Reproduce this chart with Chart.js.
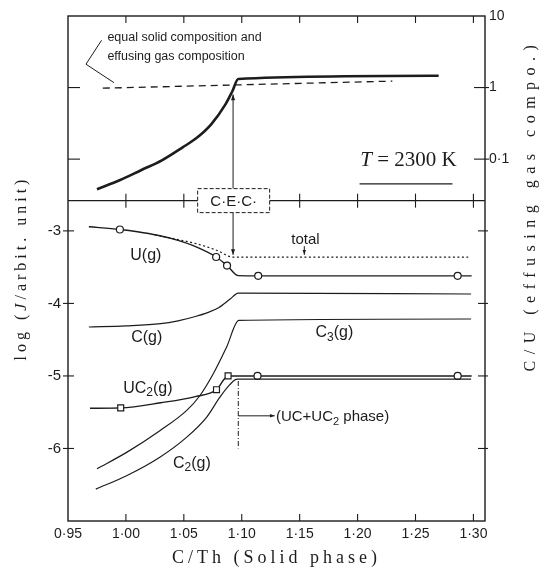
<!DOCTYPE html>
<html>
<head>
<meta charset="utf-8">
<script src="https://cdn.jsdelivr.net/npm/chart.js@4.4.0/dist/chart.umd.min.js"></script>
<style>
  html, body { margin: 0; padding: 0; background: #fff; }
  #wrap { width: 550px; height: 575px; position: relative; }
</style>
</head>
<body>
<div id="wrap"><canvas id="chart"></canvas></div>
<script>
// x axis: C/Th of the solid phase (shared by both panels)
const xTicks = [0.95, 1.00, 1.05, 1.10, 1.15, 1.20, 1.25, 1.30];
const xTickLabels = ['0·95', '1·00', '1·05', '1·10', '1·15', '1·20', '1·25', '1·30'];

// top panel: C/U of the effusing gas (log scale)
const cuTicks = [10, 1, 0.1];
const cuTickLabels = ['10', '1', '0·1'];
const gasX = [0.975, 0.995, 1.013, 1.031, 1.049, 1.0615, 1.0736, 1.0858, 1.0918, 1.097, 1.27];
const gasCU = [0.038, 0.051, 0.070, 0.096, 0.146, 0.20, 0.306, 0.577, 0.881, 1.32, 1.46];
// equal solid and gas composition
const equalX = [0.98, 1.23];
const equalCU = [0.98, 1.23];

// bottom panel: log(J / arbit. unit)
const logJTicks = [-3, -4, -5, -6];
const logJTickLabels = ['-3', '-4', '-5', '-6'];

const totalX = [1.025, 1.045, 1.0606, 1.0788, 1.0924, 1.2955];
const totalJ = [-3.055, -3.12, -3.176, -3.27, -3.362, -3.362];

const uX = [0.968, 0.9948, 1.01, 1.0273, 1.045, 1.0576, 1.0779, 1.0873, 1.097, 1.1142, 1.2864, 1.2985];
const uJ = [-2.944, -2.981, -3.012, -3.06, -3.13, -3.2, -3.36, -3.478, -3.617, -3.62, -3.62, -3.62];
const uMarks = [1, 6, 7, 9, 10];

const cX = [0.968, 1.0, 1.03, 1.045, 1.06, 1.07, 1.08, 1.09, 1.097, 1.298];
const cJ = [-4.325, -4.31, -4.28, -4.24, -4.18, -4.13, -4.06, -3.94, -3.858, -3.87];

const c3X = [0.975, 1.0006, 1.0293, 1.0523, 1.0638, 1.0753, 1.0868, 1.0975, 1.298];
const c3J = [-6.28, -6.054, -5.755, -5.479, -5.273, -4.974, -4.607, -4.235, -4.215];

const c2X = [0.974, 1.0006, 1.0293, 1.0523, 1.0696, 1.081, 1.0897, 1.096, 1.298];
const c2J = [-6.56, -6.375, -6.12, -5.847, -5.57, -5.296, -5.12, -5.045, -5.045];

const uc2X = [0.969, 0.9955, 1.03, 1.06, 1.0782, 1.0882, 1.1136, 1.2864, 1.2985];
const uc2J = [-5.445, -5.44, -5.37, -5.285, -5.19, -5.0, -5.0, -5.0, -5.0];
const uc2Squares = [1, 4, 5];
const uc2Circles = [6, 7];

const ink = '#1c1c1c';
const sans = '"Liberation Sans", Arial, sans-serif';
const serif = '"Liberation Serif", "Times New Roman", serif';

const pts = (xs, ys) => xs.map((x, i) => ({ x: x, y: ys[i] }));

function seg(ctx, x1, y1, x2, y2) {
    ctx.beginPath();
    ctx.moveTo(x1, y1);
    ctx.lineTo(x2, y2);
    ctx.stroke();
}

function arrow(ctx, x1, y1, x2, y2, size) {
    seg(ctx, x1, y1, x2, y2);
    const a = Math.atan2(y2 - y1, x2 - x1);
    ctx.beginPath();
    ctx.moveTo(x2, y2);
    ctx.lineTo(x2 - size * Math.cos(a - 0.35), y2 - size * Math.sin(a - 0.35));
    ctx.lineTo(x2 - size * Math.cos(a + 0.35), y2 - size * Math.sin(a + 0.35));
    ctx.closePath();
    ctx.fill();
}

// text made of pieces: [text, ''|'it'|'sub']
function rich(ctx, parts, x, y, size, family, align) {
    const fontOf = p => (p[1] === 'it' ? 'italic ' : '') + (p[1] === 'sub' ? Math.round(size * 0.72) : size) + 'px ' + family;
    let w = 0;
    parts.forEach(p => { ctx.font = fontOf(p); w += ctx.measureText(p[0]).width; });
    let cx = align === 'center' ? x - w / 2 : align === 'right' ? x - w : x;
    ctx.textAlign = 'left';
    ctx.textBaseline = 'middle';
    parts.forEach(p => {
        ctx.font = fontOf(p);
        ctx.fillText(p[0], cx, y + (p[1] === 'sub' ? size * 0.3 : 0));
        cx += ctx.measureText(p[0]).width;
    });
}

function rotatedTitle(ctx, parts, cx, cy, size, spacing) {
    ctx.save();
    ctx.translate(cx, cy);
    ctx.rotate(-Math.PI / 2);
    ctx.letterSpacing = spacing + 'px';
    rich(ctx, parts, 0, 0, size, serif, 'center');
    ctx.restore();
}

const decorations = {
    id: 'decorations',
    afterDatasetsDraw(chart) {
        const { ctx, chartArea: a, scales: s } = chart;
        const X = v => s.x.getPixelForValue(v);
        const T = v => s.yTop.getPixelForValue(v);
        const B = v => s.yBot.getPixelForValue(v);
        const mid = s.yBot.top;

        ctx.save();
        ctx.strokeStyle = ink;
        ctx.fillStyle = ink;

        // frame and panel divider
        ctx.lineWidth = 1.4;
        ctx.strokeRect(a.left, a.top, a.right - a.left, a.bottom - a.top);
        seg(ctx, a.left, mid, a.right, mid);

        // tick marks
        ctx.lineWidth = 1.1;
        xTicks.slice(1).forEach(v => {
            const px = X(v);
            seg(ctx, px, a.top, px, a.top + 7);
            seg(ctx, px, mid - 7, px, mid + 7);
            seg(ctx, px, a.bottom - 7, px, a.bottom);
        });
        cuTicks.slice(1).forEach(v => {
            const py = T(v);
            seg(ctx, a.left, py, a.left + 12, py);
            seg(ctx, a.right - 11, py, a.right + 4, py);
        });
        logJTicks.forEach(v => {
            const py = B(v);
            seg(ctx, a.left - 5, py, a.left + 6, py);
            seg(ctx, a.right - 7, py, a.right + 3, py);
        });

        // top panel notes
        ctx.lineWidth = 1;
        rich(ctx, [['equal solid composition and', '']], X(0.984), T(5.0), 12.5, sans, 'left');
        rich(ctx, [['effusing gas composition', '']], X(0.984), T(2.75), 12.5, sans, 'left');
        ctx.beginPath();
        ctx.moveTo(X(0.979), T(4.58));
        ctx.lineTo(X(0.9655), T(2.12));
        ctx.lineTo(X(0.9897), T(1.17));
        ctx.stroke();

        rich(ctx, [['T', 'it'], [' = 2300 K', '']], X(1.244), T(0.095), 21, serif, 'center');
        ctx.lineWidth = 1.3;
        seg(ctx, X(1.2017), T(0.045), X(1.2819), T(0.045));

        // C.E.C. box on the divider with arrows
        ctx.lineWidth = 1;
        const bx = X(1.093);
        arrow(ctx, X(1.0925), mid - 12, X(1.0925), T(0.8), 6);
        arrow(ctx, X(1.0925), mid + 12, X(1.0925), B(-3.33), 6);
        ctx.fillStyle = '#fff';
        ctx.fillRect(bx - 36, mid - 12, 72, 24);
        ctx.fillStyle = ink;
        ctx.setLineDash([4, 2]);
        ctx.strokeRect(bx - 36, mid - 12, 72, 24);
        ctx.setLineDash([]);
        rich(ctx, [['C·E·C·', '']], bx, mid + 1, 15, sans, 'center');

        // bottom panel labels
        rich(ctx, [['total', '']], X(1.155), B(-3.12), 15, sans, 'center');
        arrow(ctx, X(1.154), B(-3.21), X(1.154), B(-3.33), 5);
        rich(ctx, [['U(g)', '']], X(1.0172), B(-3.34), 16, sans, 'center');
        rich(ctx, [['C(g)', '']], X(1.018), B(-4.47), 16, sans, 'center');
        rich(ctx, [['C', ''], ['3', 'sub'], ['(g)', '']], X(1.180), B(-4.40), 16, sans, 'center');
        rich(ctx, [['UC', ''], ['2', 'sub'], ['(g)', '']], X(1.019), B(-5.17), 16, sans, 'center');
        rich(ctx, [['C', ''], ['2', 'sub'], ['(g)', '']], X(1.057), B(-6.205), 16, sans, 'center');

        // UC + UC2 phase boundary
        ctx.setLineDash([5, 2, 1, 2]);
        seg(ctx, X(1.097), B(-5.07), X(1.097), B(-6.0));
        ctx.setLineDash([]);
        arrow(ctx, X(1.097), B(-5.55), X(1.1284), B(-5.55), 5);
        rich(ctx, [['(UC+UC', ''], ['2', 'sub'], [' phase)', '']], X(1.1295), B(-5.57), 15, sans, 'left');

        // axis titles
        ctx.save();
        ctx.letterSpacing = '4px';
        rich(ctx, [['C/Th (Solid phase)', '']], (a.left + a.right) / 2, chart.height - 17, 18, serif, 'center');
        ctx.restore();
        rotatedTitle(ctx, [['log (', ''], ['J', 'it'], ['/arbit. unit)', '']], a.left - 46, 268, 16, 4);
        rotatedTitle(ctx, [['C/U (effusing gas compo.)', '']], a.right + 46, 205, 16, 6.5);

        ctx.restore();
    }
};

const lineStyle = {
    borderColor: ink,
    backgroundColor: ink,
    pointRadius: 0,
    fill: false,
    cubicInterpolationMode: 'monotone'
};

const hiddenGrid = { display: false, drawTicks: false };

new Chart(document.getElementById('chart'), {
    type: 'line',
    data: {
        datasets: [
            Object.assign({}, lineStyle, { label: 'C/U gas', data: pts(gasX, gasCU), yAxisID: 'yTop', borderWidth: 2.6 }),
            Object.assign({}, lineStyle, { label: 'equal composition', data: pts(equalX, equalCU), yAxisID: 'yTop', borderWidth: 1.3, borderDash: [7, 5] }),
            Object.assign({}, lineStyle, { label: 'total', data: pts(totalX, totalJ), yAxisID: 'yBot', borderWidth: 1.2, borderDash: [2, 2.5] }),
            Object.assign({}, lineStyle, {
                label: 'U(g)', data: pts(uX, uJ), yAxisID: 'yBot', borderWidth: 1.4,
                pointRadius: c => uMarks.includes(c.dataIndex) ? 3.5 : 0,
                pointBackgroundColor: '#fff', pointBorderColor: ink, pointBorderWidth: 1.2
            }),
            Object.assign({}, lineStyle, { label: 'C(g)', data: pts(cX, cJ), yAxisID: 'yBot', borderWidth: 1.2 }),
            Object.assign({}, lineStyle, { label: 'C3(g)', data: pts(c3X, c3J), yAxisID: 'yBot', borderWidth: 1.2 }),
            Object.assign({}, lineStyle, { label: 'C2(g)', data: pts(c2X, c2J), yAxisID: 'yBot', borderWidth: 1.2 }),
            Object.assign({}, lineStyle, {
                label: 'UC2(g)', data: pts(uc2X, uc2J), yAxisID: 'yBot', borderWidth: 1.4,
                pointStyle: c => uc2Squares.includes(c.dataIndex) ? 'rect' : 'circle',
                pointRadius: c => uc2Squares.includes(c.dataIndex) ? 4.2 : (uc2Circles.includes(c.dataIndex) ? 3.5 : 0),
                pointBackgroundColor: '#fff', pointBorderColor: ink, pointBorderWidth: 1.2
            })
        ]
    },
    options: {
        responsive: true,
        maintainAspectRatio: false,
        animation: false,
        layout: { padding: { top: 15, left: 0, right: 0, bottom: 0 } },
        plugins: { legend: { display: false }, tooltip: { enabled: false } },
        scales: {
            x: {
                type: 'linear', position: 'bottom', min: 0.95, max: 1.31,
                grid: hiddenGrid, border: { display: false },
                afterBuildTicks: sc => { sc.ticks = xTicks.map(v => ({ value: v })); },
                afterFit: sc => { sc.height = 54; },
                ticks: { callback: (v, i) => xTickLabels[i], color: ink, font: { family: sans, size: 14 }, padding: 5, maxRotation: 0, autoSkip: false }
            },
            yBot: {
                type: 'linear', position: 'left', stack: 'left', stackWeight: 321, min: -7, max: -2.583,
                grid: hiddenGrid, border: { display: false },
                afterBuildTicks: sc => { sc.ticks = logJTicks.map(v => ({ value: v })); },
                afterFit: sc => { sc.width = 68; },
                ticks: { callback: (v, i) => logJTickLabels[i], color: ink, font: { family: sans, size: 15 }, padding: 7 }
            },
            yTop: {
                type: 'logarithmic', position: 'left', stack: 'left', stackWeight: 185, min: 0.0263, max: 10,
                grid: hiddenGrid, border: { display: false },
                afterFit: sc => { sc.width = 68; },
                ticks: { display: false }
            },
            yTopR: {
                type: 'logarithmic', position: 'right', stack: 'right', stackWeight: 185, min: 0.0263, max: 10,
                grid: hiddenGrid, border: { display: false },
                afterBuildTicks: sc => { sc.ticks = cuTicks.map(v => ({ value: v })); },
                afterFit: sc => { sc.width = 65; },
                ticks: { callback: (v, i) => cuTickLabels[i], color: ink, font: { family: sans, size: 14 }, padding: 4 }
            },
            yBotR: {
                type: 'linear', position: 'right', stack: 'right', stackWeight: 321, min: -7, max: -2.583,
                grid: hiddenGrid, border: { display: false },
                afterFit: sc => { sc.width = 65; },
                ticks: { display: false }
            }
        }
    },
    plugins: [decorations]
});
</script>
</body>
</html>
